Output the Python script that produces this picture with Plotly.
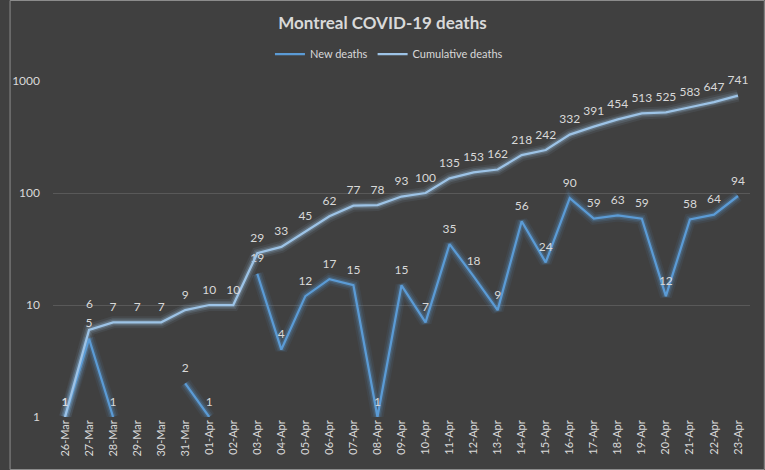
import plotly.graph_objects as go
import math

dates = ["26-Mar","27-Mar","28-Mar","29-Mar","30-Mar","31-Mar","01-Apr","02-Apr","03-Apr","04-Apr",
         "05-Apr","06-Apr","07-Apr","08-Apr","09-Apr","10-Apr","11-Apr","12-Apr","13-Apr","14-Apr",
         "15-Apr","16-Apr","17-Apr","18-Apr","19-Apr","20-Apr","21-Apr","22-Apr","23-Apr"]
new_deaths = [1,5,1,0,0,2,1,0,19,4,12,17,15,1,15,7,35,18,9,56,24,90,59,63,59,12,58,64,94]
cumulative = [1,6,7,7,7,9,10,10,29,33,45,62,77,78,93,100,135,153,162,218,242,332,391,454,513,525,583,647,741]
y_ticks = [1, 10, 100, 1000]

new_plot = [v if v > 0 else None for v in new_deaths]
new_text = [str(v) if v > 0 else "" for v in new_deaths]
cum_text = [str(v) for v in cumulative]
cum_text[1] = ""  # drawn as annotation to stack above the new-deaths label

BLUE = "#5b9bd5"
LIGHT = "#9dc3e6"
TXT = "#d9d9d9"
FONT = "Lato, Open Sans, Arial"
LBL = 12
SPACER = dict(size=12, color="rgba(0,0,0,0)")  # invisible marker: lifts labels off the line

fig = go.Figure()
# glow layers
for w, a in [(12, 0.08), (8, 0.14), (5, 0.22)]:
    fig.add_trace(go.Scatter(x=dates, y=new_plot, mode="lines", line=dict(color=f"rgba(91,155,213,{a})", width=w),
                             showlegend=False, hoverinfo="skip", connectgaps=False))
    fig.add_trace(go.Scatter(x=dates, y=cumulative, mode="lines", line=dict(color=f"rgba(157,195,230,{a})", width=w),
                             showlegend=False, hoverinfo="skip"))

fig.add_trace(go.Scatter(x=dates, y=new_plot, mode="lines+markers+text", name="New deaths",
                         line=dict(color=BLUE, width=2.25), marker=SPACER, text=new_text, textposition="top center",
                         textfont=dict(color=TXT, size=LBL, family=FONT), connectgaps=False, cliponaxis=False))
fig.add_trace(go.Scatter(x=dates, y=cumulative, mode="lines+markers+text", name="Cumulative deaths",
                         line=dict(color=LIGHT, width=2.25), marker=SPACER, text=cum_text,
                         textposition="top center", textfont=dict(color=TXT, size=LBL, family=FONT),
                         cliponaxis=False))
fig.add_annotation(x=dates[1], y=math.log10(cumulative[1]), text=str(cumulative[1]), showarrow=False,
                   yanchor="bottom", yshift=17, font=dict(color=TXT, size=LBL, family=FONT))

fig.update_layout(
    width=765, height=470,
    paper_bgcolor="#404040", plot_bgcolor="#404040",
    margin=dict(l=44, r=15, t=81, b=53),
    title=dict(text="<b>Montreal COVID-19 deaths</b>", x=0.5, xanchor="center", y=0.951, yanchor="middle",
               font=dict(color=TXT, size=17, family=FONT)),
    legend=dict(orientation="h", x=0.482, xref="paper", xanchor="center", y=1.080, yref="paper",
                yanchor="middle", font=dict(color=TXT, size=11, family=FONT), bgcolor="rgba(0,0,0,0)",
                itemwidth=30),
    showlegend=True,
    font=dict(family=FONT, color=TXT),
)
fig.update_xaxes(type="category", tickangle=-90, tickfont=dict(color=TXT, size=11, family=FONT),
                 showgrid=False, showline=False, ticks="", range=[-0.5, len(dates) - 0.5])
fig.update_yaxes(type="log", range=[0, 3], tickvals=y_ticks, ticktext=[str(v) for v in y_ticks],
                 tickfont=dict(color=TXT, size=12, family=FONT), gridcolor="#595959", gridwidth=1,
                 showline=False, zeroline=False, ticks="", ticklabelstandoff=12)
fig.add_shape(type="rect", xref="paper", yref="paper", x0=-43.5/706, x1=1 + 14.5/706, y0=-52.5/336, y1=1 + 80.5/336,
              line=dict(color="#8c8c8c", width=1), fillcolor="rgba(0,0,0,0)", layer="below")

fig.write_html("out.html", config={"displayModeBar": False},
               post_script="document.body.style.margin='0';document.body.style.background='#404040';")
